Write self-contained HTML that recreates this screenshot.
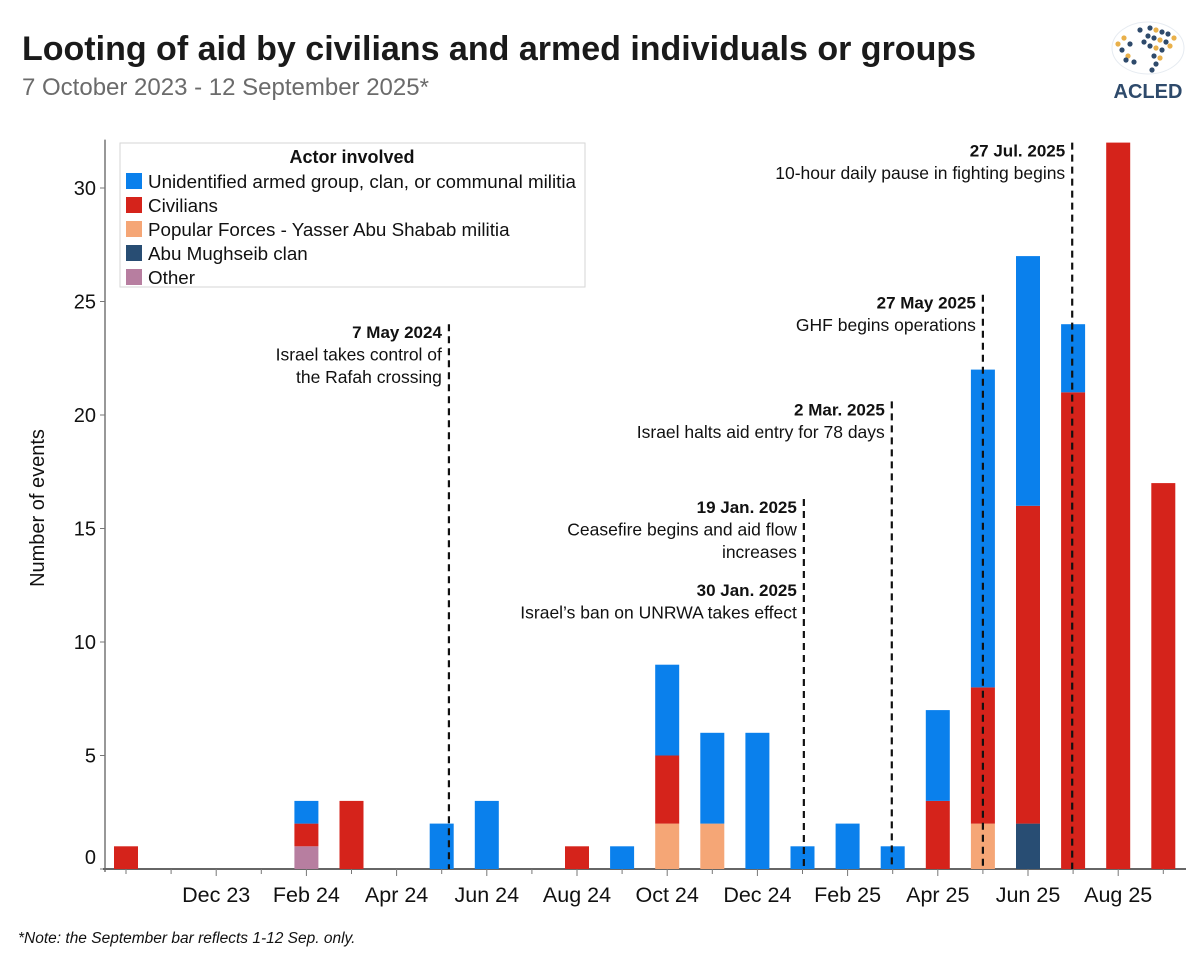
<!DOCTYPE html>
<html><head><meta charset="utf-8">
<style>
body{margin:0;background:#fff;font-family:"Liberation Sans",sans-serif;}
#wrap{position:relative;width:1200px;height:960px;overflow:hidden;}
</style></head>
<body>
<div id="wrap">
<svg id="chart" width="1200" height="960" xmlns="http://www.w3.org/2000/svg">
<text x="22" y="60" font-size="34" font-weight="bold" fill="#1a1a1a">Looting of aid by civilians and armed individuals or groups</text>
<text x="22" y="95" font-size="24" fill="#6b6b6b">7 October 2023 - 12 September 2025*</text>
<g>
<ellipse cx="1148" cy="48" rx="36" ry="26" fill="none" stroke="#e6ebf1" stroke-width="1"/>
<g id="logodots"></g>
<text x="1148" y="98" font-size="20" font-weight="bold" fill="#2e4a6b" text-anchor="middle">ACLED</text>
</g>
<text transform="translate(44,508) rotate(-90)" font-size="20" text-anchor="middle" fill="#111">Number of events</text>
<g id="yaxis"></g>
<g id="xaxis"></g>
<g id="bars"></g>
<g id="events"></g>
<g>
<rect x="120" y="143" width="465" height="144" fill="#fff" stroke="#d6d6d6"/>
<text x="352" y="163" font-size="18" font-weight="bold" text-anchor="middle" fill="#111">Actor involved</text>
<g id="legend"></g>
</g>
<text x="18" y="943" font-size="15.5" font-style="italic" fill="#111">*Note: the September bar reflects 1-12 Sep. only.</text>
</svg>
</div>
<script>
const months = ["Oct 23","Nov 23","Dec 23","Jan 24","Feb 24","Mar 24","Apr 24","May 24","Jun 24","Jul 24","Aug 24","Sep 24","Oct 24","Nov 24","Dec 24","Jan 25","Feb 25","Mar 25","Apr 25","May 25","Jun 25","Jul 25","Aug 25","Sep 25"];
const other    = [0,0,0,0,1,0,0,0,0,0,0,0,0,0,0,0,0,0,0,0,0,0,0,0];
const mughseib = [0,0,0,0,0,0,0,0,0,0,0,0,0,0,0,0,0,0,0,0,2,0,0,0];
const popular  = [0,0,0,0,0,0,0,0,0,0,0,0,2,2,0,0,0,0,0,2,0,0,0,0];
const civilians= [1,0,0,0,1,3,0,0,0,0,1,0,3,0,0,0,0,0,3,6,14,21,32,17];
const unidentified=[0,0,0,0,1,0,0,2,3,0,0,1,4,4,6,1,2,1,4,14,11,3,0,0];
const yTicks = [0,5,10,15,20,25,30];
const xTickLabels = ["","","Dec 23","","Feb 24","","Apr 24","","Jun 24","","Aug 24","","Oct 24","","Dec 24","","Feb 25","","Apr 25","","Jun 25","","Aug 25",""];
const eventPos = [7.16,15.03,16.98,19.0,20.98];
const eventTop = [24,16.3,20.6,25.3,32];
const eventTitles = ["7 May 2024","19 Jan. 2025","2 Mar. 2025","27 May 2025","27 Jul. 2025"];
const eventLines = [["Israel takes control of","the Rafah crossing"],["Ceasefire begins and aid flow","increases","","30 Jan. 2025","Israel’s ban on UNRWA takes effect"],["Israel halts aid entry for 78 days"],["GHF begins operations"],["10-hour daily pause in fighting begins"]];

const NS="http://www.w3.org/2000/svg";
const X0=126, DX=45.1, Y0=869, UNIT=22.7, BW=24;
const xs = i => X0 + DX*i;
const ys = v => Y0 - v*UNIT;
function mk(tag, attrs, parent){const e=document.createElementNS(NS,tag);for(const k in attrs)e.setAttribute(k,attrs[k]);parent.appendChild(e);return e;}

const ya=document.getElementById('yaxis');
const yl=mk('line',{x1:105,x2:105,y1:ys(32)-3,y2:Y0+3,stroke:'#777','stroke-width':1.5},ya);


yTicks.forEach(t=>{
  mk('line',{x1:100,x2:105,y1:ys(t),y2:ys(t),stroke:'#777'},ya);
  const tx=mk('text',{x:96,y:(t===0?ys(t)-12:ys(t))+7,'font-size':20,'text-anchor':'end',fill:'#111'},ya);
  tx.textContent=t;
  
  
});
const xa=document.getElementById('xaxis');
const xl=mk('line',{x1:103,x2:1186,y1:Y0,y2:Y0,stroke:'#666','stroke-width':2},xa);


months.forEach((m,i)=>{
  mk('line',{x1:xs(i),x2:xs(i),y1:Y0,y2:Y0+(xTickLabels[i]?7:5),stroke:'#777'},xa);
  if(xTickLabels[i]){
    const tx=mk('text',{x:xs(i),y:902,'font-size':21.5,'text-anchor':'middle',fill:'#111'},xa);
    tx.textContent=xTickLabels[i];
    
    
  }
});
const series=[["other",other,"#b77ea0"],["abu-mughseib",mughseib,"#284d73"],["popular-forces",popular,"#f5a676"],["civilians",civilians,"#d5231b"],["unidentified",unidentified,"#0a80ec"]];
const bg=document.getElementById('bars');
months.forEach((m,i)=>{
  let base=0;
  series.forEach(s=>{
    const v=s[1][i]; if(!v) return;
    const r=mk('rect',{x:xs(i)-BW/2,y:ys(base+v),width:BW,height:v*UNIT,fill:s[2]},bg);
    
    
    base+=v;
  });
});
const eg=document.getElementById('events');
eventPos.forEach((p,k)=>{
  const x=xs(p);
  const l=mk('line',{x1:x,x2:x,y1:ys(eventTop[k]),y2:Y0,stroke:'#111','stroke-width':2.2,'stroke-dasharray':'7,5'},eg);
  
  
  const ty=ys(eventTop[k])+14;
  const t=mk('text',{x:x-7,y:ty,'font-size':17,'font-weight':'bold','text-anchor':'end',fill:'#111'},eg);
  t.textContent=eventTitles[k];
  
  
  eventLines[k].forEach((ln,j)=>{
    if(!ln) return;
    const bold = ln==="30 Jan. 2025";
    const tt=mk('text',{x:x-7,y:ty+22.5*(j+1)-(j>=3?7:0),'font-size':bold?17:17.5,'font-weight':bold?'bold':'normal','text-anchor':'end',fill:'#111'},eg);
    tt.textContent=ln;
    
    
  });
});
const legendNames=["Unidentified armed group, clan, or communal militia","Civilians","Popular Forces - Yasser Abu Shabab militia","Abu Mughseib clan","Other"];
const legendColors=["#0a80ec","#d5231b","#f5a676","#284d73","#b77ea0"];
const lg=document.getElementById('legend');
legendNames.forEach((n,i)=>{
  const y=181+i*24;
  mk('rect',{x:126,y:y-8,width:16,height:16,fill:legendColors[i]},lg);
  const t=mk('text',{x:148,y:y+7,'font-size':18.8,fill:'#111'},lg);
  t.textContent=n;
  
  
});
const ld=document.getElementById('logodots');
const dots=[[1124,38],[1130,44],[1122,50],[1128,56],[1134,62],[1150,28],[1156,30],[1162,32],[1168,34],[1174,38],[1148,36],[1154,38],[1160,40],[1166,42],[1150,46],[1156,48],[1162,50],[1154,56],[1160,58],[1156,64],[1152,70],[1170,46],[1144,42],[1140,30],[1118,44],[1126,60]];
dots.forEach((d,i)=>mk('circle',{cx:d[0],cy:d[1],r:2.6,fill:i%3===0?'#e9b04a':'#2e4a6b'},ld));
</script>
</body></html>
